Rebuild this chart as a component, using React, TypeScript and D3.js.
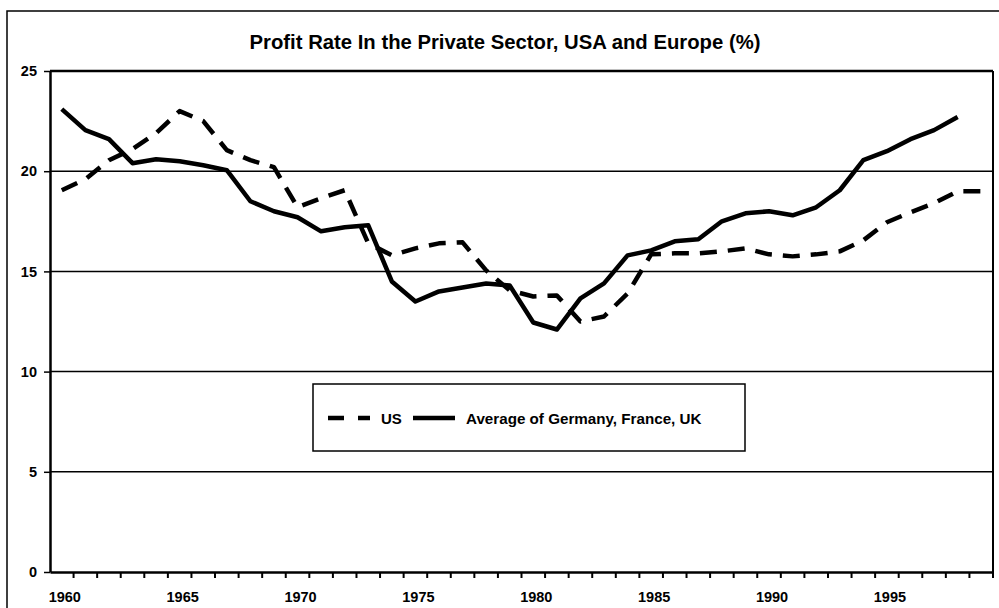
import React, { useRef, useEffect } from "react";
import { select, scaleBand, scaleLinear, line, axisBottom, axisLeft } from "d3";

// years shown on the category axis
const years = Array.from({ length: 40 }, (_, i) => 1960 + i);
const yTicks = [0, 5, 10, 15, 20, 25];

// US profit rate, 1960-1999
const usValues = [
  19.05, 19.6, 20.55, 21.1, 21.9, 23.0, 22.5, 21.05, 20.55, 20.2,
  18.2, 18.65, 19.05, 16.4, 15.8, 16.15, 16.4, 16.45, 15.05, 14.05,
  13.75, 13.8, 12.5, 12.75, 13.9, 15.85, 15.9, 15.9, 16.0, 16.15,
  15.85, 15.75, 15.85, 16.0, 16.55, 17.45, 17.95, 18.4, 19.0, 19.0,
];

// average of Germany, France, UK, 1960-1998
const europeValues = [
  23.1, 22.05, 21.6, 20.4, 20.6, 20.5, 20.3, 20.05, 18.5, 18.0,
  17.7, 17.0, 17.2, 17.3, 14.5, 13.5, 14.0, 14.2, 14.4, 14.3,
  12.45, 12.1, 13.65, 14.4, 15.8, 16.05, 16.5, 16.6, 17.5, 17.9,
  18.0, 17.8, 18.2, 19.05, 20.55, 21.0, 21.6, 22.05, 22.7,
];

const seriesNames = ["US", "Average of Germany, France, UK"];

export default function App() {
  const svgRef = useRef(null);

  useEffect(() => {
    const svg = select(svgRef.current);
    svg.selectAll("*").remove();

    const width = 999;
    const height = 608;
    const margin = { top: 71, right: 6, bottom: 36, left: 50 };
    const font = "Liberation Sans, Arial, sans-serif";

    // outer frame
    svg.append("rect")
      .attr("x", 7).attr("y", 11)
      .attr("width", 1000).attr("height", 610)
      .attr("fill", "white").attr("stroke", "black").attr("stroke-width", 1.5);

    svg.append("text")
      .attr("x", 505).attr("y", 49)
      .attr("text-anchor", "middle")
      .attr("font-family", font).attr("font-weight", "bold").attr("font-size", 20.3)
      .text("Profit Rate In the Private Sector, USA and Europe (%)");

    const xScale = scaleBand()
      .domain(years.map(String))
      .range([margin.left, width - margin.right]);

    const yScale = scaleLinear()
      .domain([0, 25])
      .range([height - margin.bottom, margin.top]);

    // gridlines
    svg.append("g")
      .selectAll("line")
      .data(yTicks.filter(d => d > 0))
      .join("line")
      .attr("x1", margin.left).attr("x2", width - margin.right)
      .attr("y1", d => yScale(d)).attr("y2", d => yScale(d))
      .attr("stroke", "black")
      .attr("stroke-width", d => (d === 25 ? 2.5 : 1.5));

    // right border of plot
    svg.append("line")
      .attr("x1", width - margin.right).attr("x2", width - margin.right)
      .attr("y1", yScale(25)).attr("y2", yScale(0))
      .attr("stroke", "black").attr("stroke-width", 2);

    // axes
    const xAxis = svg.append("g")
      .attr("transform", `translate(0,${yScale(0)})`)
      .call(
        axisBottom(xScale)
          .tickSize(0)
          .tickFormat(d => (+d % 5 === 0 ? d : ""))
      );
    xAxis.select(".domain").attr("stroke-width", 2.5);
    xAxis.selectAll("text")
      .attr("y", 30).attr("dy", 0).attr("dx", 3)
      .attr("font-family", font).attr("font-weight", "bold").attr("font-size", 14.5)
      .attr("fill", "black");

    // x tick marks at category boundaries
    svg.append("g")
      .selectAll("line")
      .data(years)
      .join("line")
      .attr("x1", d => xScale(String(d)) + xScale.bandwidth())
      .attr("x2", d => xScale(String(d)) + xScale.bandwidth())
      .attr("y1", yScale(0)).attr("y2", yScale(0) + 6)
      .attr("stroke", "black").attr("stroke-width", 2);

    const yAxis = svg.append("g")
      .attr("transform", `translate(${margin.left},0)`)
      .call(axisLeft(yScale).tickValues(yTicks).tickSize(6).tickPadding(7).tickSizeOuter(0));
    yAxis.select(".domain").attr("stroke-width", 2.5);
    yAxis.selectAll(".tick line").attr("stroke-width", 1.5);
    yAxis.selectAll("text")
      .attr("font-family", font).attr("font-weight", "bold").attr("font-size", 14.5)
      .attr("fill", "black");

    const center = i => xScale(String(years[i])) + xScale.bandwidth() / 2;
    const lineGenerator = line()
      .x((d, i) => center(i))
      .y(d => yScale(d));

    svg.append("path")
      .attr("d", lineGenerator(usValues))
      .attr("fill", "none")
      .attr("stroke", "black").attr("stroke-width", 4.5)
      .attr("stroke-dasharray", "17 11")
      .attr("stroke-linejoin", "round");

    svg.append("path")
      .attr("d", lineGenerator(europeValues))
      .attr("fill", "none")
      .attr("stroke", "black").attr("stroke-width", 4.5)
      .attr("stroke-linejoin", "round");

    // legend
    const legend = svg.append("g");
    legend.append("rect")
      .attr("x", 313).attr("y", 384)
      .attr("width", 432).attr("height", 67)
      .attr("fill", "white").attr("stroke", "black").attr("stroke-width", 1.5);

    legend.append("line")
      .attr("x1", 328).attr("x2", 370).attr("y1", 418).attr("y2", 418)
      .attr("stroke", "black").attr("stroke-width", 4.5)
      .attr("stroke-dasharray", "16 14");
    legend.append("text")
      .attr("x", 381).attr("y", 424)
      .attr("font-family", font).attr("font-weight", "bold").attr("font-size", 15)
      .text(seriesNames[0]);

    legend.append("line")
      .attr("x1", 413).attr("x2", 455).attr("y1", 418).attr("y2", 418)
      .attr("stroke", "black").attr("stroke-width", 4.5);
    legend.append("text")
      .attr("x", 466).attr("y", 424)
      .attr("font-family", font).attr("font-weight", "bold").attr("font-size", 15.2)
      .text(seriesNames[1]);
  }, []);

  return (
    <svg
      ref={svgRef}
      width="999"
      height="608"
      style={{ position: "absolute", left: 0, top: 0, background: "white" }}
    />
  );
}
